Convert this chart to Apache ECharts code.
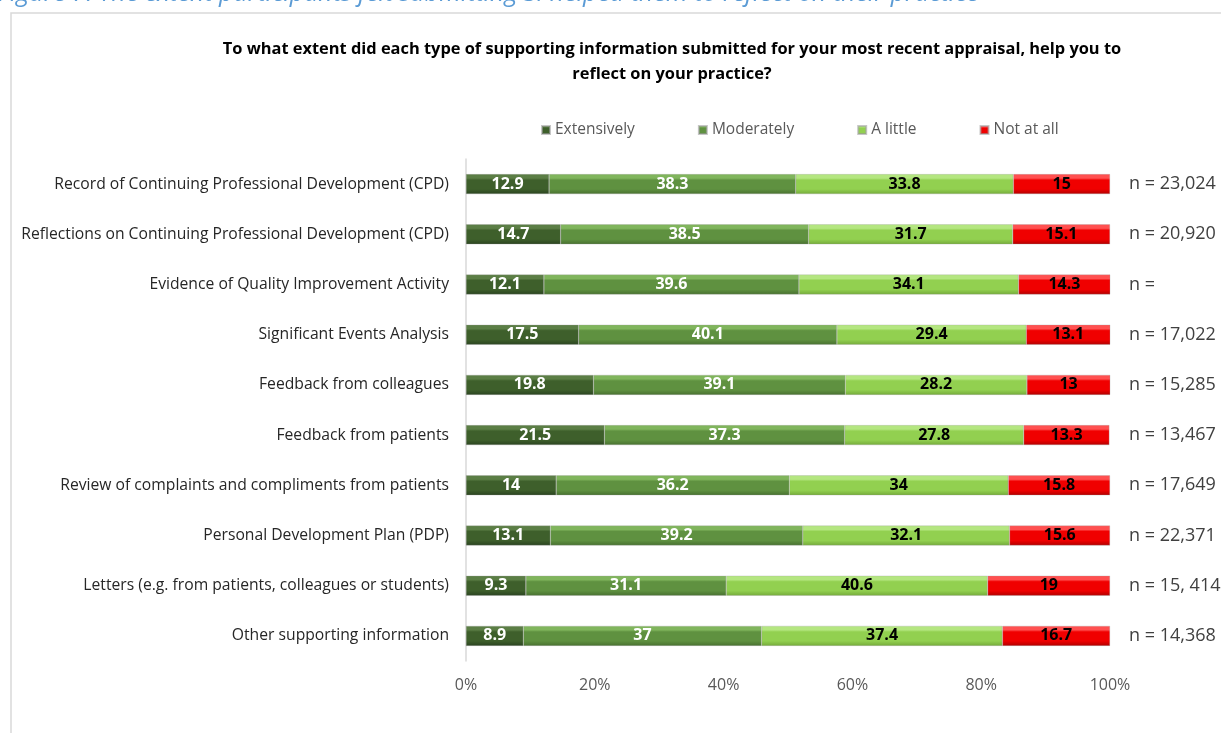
<!DOCTYPE html>
<html>
<head>
<meta charset="utf-8">
<script src="https://cdn.jsdelivr.net/npm/echarts@6/dist/echarts.min.js"></script>
<style>
html,body{margin:0;padding:0;background:#fff;}
#c{width:1221px;height:733px;}
</style>
</head>
<body>
<div id="c"></div>
<script>
var categories = [
  'Record of Continuing Professional Development (CPD)',
  'Reflections on Continuing Professional Development (CPD)',
  'Evidence of Quality Improvement Activity',
  'Significant Events Analysis',
  'Feedback from colleagues',
  'Feedback from patients',
  'Review of complaints and compliments from patients',
  'Personal Development Plan (PDP)',
  'Letters (e.g. from patients, colleagues or students)',
  'Other supporting information'
];
var extensively = [12.9, 14.7, 12.1, 17.5, 19.8, 21.5, 14, 13.1, 9.3, 8.9];
var moderately  = [38.3, 38.5, 39.6, 40.1, 39.1, 37.3, 36.2, 39.2, 31.1, 37];
var aLittle     = [33.8, 31.7, 34.1, 29.4, 28.2, 27.8, 34, 32.1, 40.6, 37.4];
var notAtAll    = [15, 15.1, 14.3, 13.1, 13, 13.3, 15.8, 15.6, 19, 16.7];
var nLabels = ['n = 23,024', 'n = 20,920', 'n = ', 'n = 17,022', 'n = 15,285',
               'n = 13,467', 'n = 17,649', 'n = 22,371', 'n = 15, 414', 'n = 14,368'];
var seriesNames = ['Extensively', 'Moderately', 'A little', 'Not at all'];
var xTicks = [0, 20, 40, 60, 80, 100];

function grad(light, base, dark) {
  return new echarts.graphic.LinearGradient(0, 0, 0, 1, [
    {offset: 0, color: light},
    {offset: 0.2, color: light},
    {offset: 0.3, color: base},
    {offset: 0.75, color: base},
    {offset: 1, color: dark}
  ]);
}
var colors = [
  grad('#5b7e45', '#3e5f2b', '#2a4320'),
  grad('#80b55c', '#5f9140', '#487030'),
  grad('#b4e680', '#92d050', '#74aa3a'),
  grad('#ff5050', '#f00000', '#b00000')
];
var labelColors = ['#ffffff', '#ffffff', '#000000', '#000000'];
var dataSets = [extensively, moderately, aLittle, notAtAll];

var FONT = 'Open Sans';
var series = dataSets.map(function (d, i) {
  return {
    name: seriesNames[i],
    type: 'bar',
    stack: 'total',
    barWidth: 20,
    barGap: '-100%',
    data: d,
    itemStyle: {color: colors[i], borderColor: 'rgba(160,160,160,0.6)', borderWidth: 0.5},
    label: {
      show: true,
      position: 'inside',
      color: labelColors[i],
      fontFamily: FONT,
      fontWeight: 'bold',
      fontSize: 16
    }
  };
});
series.push({
  name: 'n',
  type: 'bar',
  barWidth: 20,
  barGap: '-100%',
  z: 1,
  data: categories.map(function () { return 100; }),
  itemStyle: {color: 'rgba(0,0,0,0)'},
  label: {
    show: true,
    position: 'right',
    distance: 19,
    color: '#404040',
    fontFamily: FONT,
    fontSize: 18,
    formatter: function (p) { return nLabels[p.dataIndex]; }
  }
});

var chart = echarts.init(document.getElementById('c'));
chart.setOption({
  animation: false,
  backgroundColor: '#fff',
  graphic: [
    {type: 'rect', shape: {x: 11, y: 13, width: 1240, height: 760},
     style: {fill: 'none', stroke: '#d9d9d9', lineWidth: 1.5}, silent: true},
    {type: 'text', left: -2, top: -19,
     style: {text: 'Figure 7: The extent participants felt submitting SI helped them to reflect on their practice',
             fill: '#5b9bd5', font: 'italic 25px "Open Sans"'}}
  ],
  title: {
    text: 'To what extent did each type of supporting information submitted for your most recent appraisal, help you to\nreflect on your practice?',
    left: 667,
    textAlign: 'center',
    top: 32,
    textStyle: {fontFamily: FONT, fontWeight: 'bold', fontSize: 16.4, color: '#000', lineHeight: 25}
  },
  legend: {
    data: seriesNames,
    left: 536,
    top: 117,
    itemWidth: 8,
    itemHeight: 8,
    itemGap: 63,
    icon: 'rect',
    textStyle: {fontFamily: FONT, fontSize: 15.5, color: '#595959'}
  },
  grid: {left: 466, right: 111, top: 159, bottom: 72, containLabel: false},
  xAxis: {
    type: 'value',
    min: 0,
    max: 100,
    interval: 20,
    axisLine: {show: false},
    axisTick: {show: false},
    splitLine: {show: false},
    axisLabel: {
      formatter: function (v) { return xTicks.indexOf(v) >= 0 ? v + '%' : ''; },
      color: '#595959', fontFamily: FONT, fontSize: 16, margin: 16
    }
  },
  yAxis: {
    type: 'category',
    inverse: true,
    data: categories,
    axisLine: {show: true, lineStyle: {color: '#d9d9d9', width: 1.5}},
    axisTick: {show: false},
    axisLabel: {color: '#262626', fontFamily: FONT, fontSize: 15.7, margin: 17}
  },
  series: series
});
</script>
</body>
</html>
